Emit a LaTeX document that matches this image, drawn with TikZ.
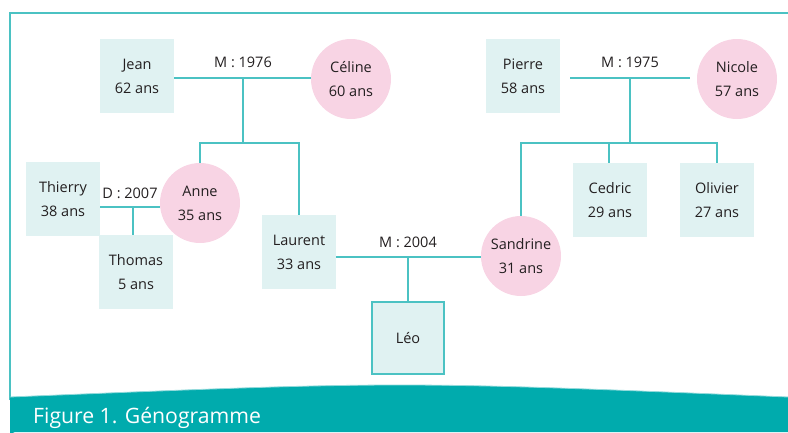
\documentclass[tikz,border=0pt]{standalone}
\usepackage{fontspec}
\setmainfont{Open Sans}
\definecolor{teal1}{HTML}{4BC2C3}
\definecolor{banner}{HTML}{00ABAD}
\definecolor{boxfill}{HTML}{E0F2F2}
\definecolor{pinkfill}{HTML}{F8D4E4}
\definecolor{txt}{HTML}{231F20}
\begin{document}
\begin{tikzpicture}[x=1pt,y=-1pt,
  male/.style={rectangle,fill=boxfill,minimum width=74pt,minimum height=74pt,inner sep=0pt,align=center,font=\fontsize{14.5}{24}\selectfont,text=txt},
  female/.style={circle,fill=pinkfill,minimum size=80pt,inner sep=0pt,align=center,font=\fontsize{14.5}{24}\selectfont,text=txt},
  link/.style={draw=teal1,line width=1.6pt},
  lbl/.style={font=\fontsize{14.5}{16}\selectfont,text=txt,inner sep=0pt}]
\useasboundingbox (0,0) rectangle (788,432);
% frame
\draw[teal1,line width=1.5pt] (10,400) -- (10,13) -- (790,13);
% banner
\fill[banner] (10,397) .. controls (400,381) .. (788,397) -- (788,432) -- (15,432) arc[start angle=90,end angle=180,radius=5pt] -- cycle;
\draw[teal1!60!white,line width=0.8pt] (10,397) .. controls (400,381) .. (788,397);
\node[anchor=base west,text=white,font=\fontsize{21.2}{24}\selectfont,inner sep=0pt] (fig) at (33,423) {Figure 1. Génogramme};
% people
\node[male] (jean) at (137,76) {Jean\\62 ans};
\node[female] (celine) at (351,79) {Céline\\60 ans};
\node[male] (thierry) at (63,199) {Thierry\\38 ans};
\node[female] (anne) at (200,203) {Anne\\35 ans};
\node[male] (thomas) at (136,272) {Thomas\\5 ans};
\node[male] (laurent) at (299,252) {Laurent\\33 ans};
\node[female] (sandrine) at (521,256) {Sandrine\\31 ans};
\node[male,draw=teal1,line width=2pt,minimum width=72pt,minimum height=72pt] (leo) at (408,338) {Léo};
\node[male] (pierre) at (523,76) {Pierre\\58 ans};
\node[female] (nicole) at (737,79) {Nicole\\57 ans};
\node[male] (cedric) at (610,200) {Cedric\\29 ans};
\node[male] (olivier) at (717,200) {Olivier\\27 ans};
% coordinates
\coordinate (m1) at (243,78);
\coordinate (m1b) at (243,143);
\coordinate (m1l) at (200,143);
\coordinate (m1r) at (299,143);
\coordinate (d1) at (133,207);
\coordinate (m2) at (408,257);
\coordinate (m3l) at (570,78);
\coordinate (m3r) at (690,78);
\coordinate (m3) at (630,78);
\coordinate (m3b) at (630,143);
\coordinate (m3bl) at (521,143);
\coordinate (m3bc) at (609,143);
\coordinate (m3br) at (717,143);
% links
\draw[link] (jean.east |- m1) -- (celine.west |- m1);
\draw[link] (m1) -- (m1b);
\draw[link] (anne.north) -- (m1l) -- (m1r) -- (laurent.north);
\draw[link] (thierry.east |- d1) -- (anne.west |- d1);
\draw[link] (d1) -- (thomas.north -| d1);
\draw[link] (laurent.east |- m2) -- (sandrine.west |- m2);
\draw[link] (m2) -- (leo.north);
\draw[link] (m3l) -- (m3r);
\draw[link] (m3) -- (m3b);
\draw[link] (sandrine.north) -- (m3bl) -- (m3br) -- (olivier.north);
\draw[link] (m3bc) -- (cedric.north -| m3bc);
% labels
\node[lbl] (l1) at (243,62) {M : 1976};
\node[lbl] (l2) at (130,193) {D : 2007};
\node[lbl] (l3) at (408,242) {M : 2004};
\node[lbl] (l4) at (630,62) {M : 1975};
\end{tikzpicture}
\end{document}
